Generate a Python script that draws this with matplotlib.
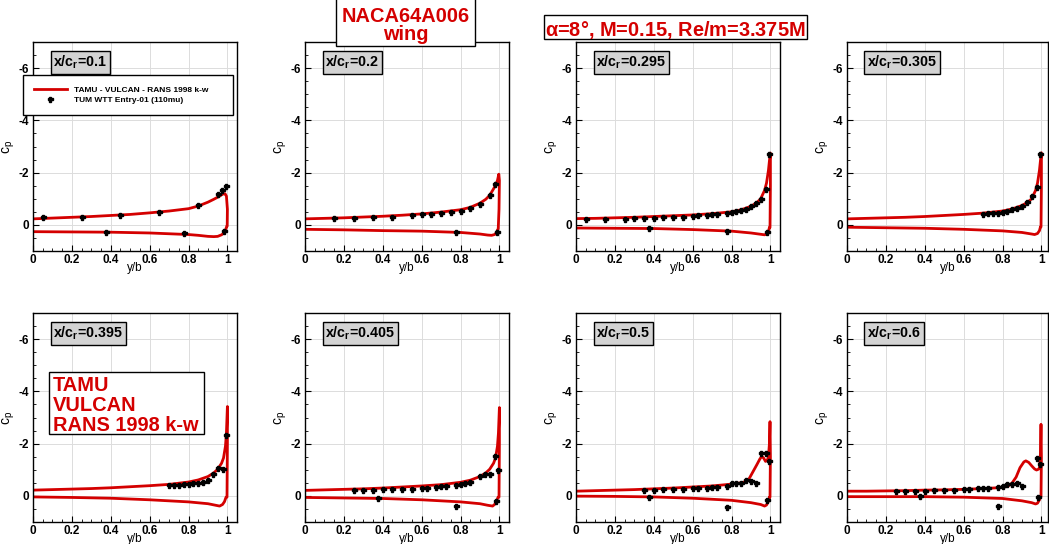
import matplotlib.pyplot as plt
from matplotlib.patches import Rectangle
from matplotlib.ticker import MultipleLocator

plt.rcParams['font.family'] = ['Liberation Sans', 'DejaVu Sans']
plt.rcParams['font.weight'] = 'bold'
plt.rcParams['mathtext.fontset'] = 'custom'
plt.rcParams['mathtext.rm'] = 'Liberation Sans:bold'
plt.rcParams['mathtext.bf'] = 'Liberation Sans:bold'
plt.rcParams['mathtext.it'] = 'Liberation Sans:bold'

RED = '#d40000'

# span stations (x/c_r)
stations = ['0.1', '0.2', '0.295', '0.305', '0.395', '0.405', '0.5', '0.6']

# ---- RANS surface cp, upper surface root->tip (incl. tip wrap) and lower surface root->tip
up_x = [
    [0, 0.1, 0.2, 0.3, 0.4, 0.5, 0.6, 0.7, 0.8, 0.85, 0.9, 0.93, 0.95, 0.97, 0.98, 0.988, 0.995, 1.0, 0.999],
    [0, 0.1, 0.2, 0.3, 0.4, 0.5, 0.6, 0.7, 0.8, 0.85, 0.9, 0.93, 0.95, 0.97, 0.98, 0.99, 0.997, 1.0, 0.998, 0.994],
    [0, 0.1, 0.2, 0.3, 0.4, 0.5, 0.6, 0.7, 0.8, 0.85, 0.9, 0.93, 0.95, 0.97, 0.98, 0.99, 0.995, 1.0, 1.0, 0.998],
    [0, 0.1, 0.2, 0.3, 0.4, 0.5, 0.6, 0.7, 0.8, 0.85, 0.9, 0.93, 0.95, 0.97, 0.98, 0.99, 0.995, 1.0, 1.0, 0.998],
    [0, 0.1, 0.2, 0.3, 0.4, 0.5, 0.6, 0.7, 0.8, 0.85, 0.9, 0.93, 0.95, 0.97, 0.98, 0.99, 0.995, 1.0, 1.0, 0.998],
    [0, 0.1, 0.2, 0.3, 0.4, 0.5, 0.6, 0.7, 0.8, 0.85, 0.9, 0.93, 0.95, 0.97, 0.98, 0.99, 0.995, 1.0, 1.0, 0.998],
    [0, 0.1, 0.2, 0.3, 0.4, 0.5, 0.6, 0.7, 0.8, 0.85, 0.87, 0.89, 0.91, 0.93, 0.945, 0.955, 0.965, 0.975,
     0.985, 0.99, 0.995, 0.998, 1.0, 0.998],
    [0, 0.1, 0.2, 0.3, 0.4, 0.5, 0.6, 0.7, 0.8, 0.83, 0.85, 0.87, 0.89, 0.91, 0.92, 0.935, 0.95, 0.965,
     0.975, 0.985, 0.99, 0.995, 0.998, 1.0, 0.998],
]
up_cp = [
    [-0.23, -0.26, -0.29, -0.32, -0.36, -0.40, -0.46, -0.53, -0.62, -0.72, -0.87, -0.98, -1.06, -1.15, -1.19,
     -1.19, -1.10, -0.60, 0.05],
    [-0.23, -0.25, -0.27, -0.30, -0.33, -0.37, -0.42, -0.49, -0.58, -0.67, -0.83, -0.98, -1.13, -1.38, -1.52,
     -1.70, -1.94, -1.70, -0.60, 0.15],
    [-0.24, -0.25, -0.27, -0.29, -0.32, -0.35, -0.38, -0.43, -0.50, -0.58, -0.71, -0.85, -1.00, -1.32, -1.60,
     -2.09, -2.45, -2.75, -1.50, 0.10],
    [-0.23, -0.25, -0.27, -0.29, -0.32, -0.36, -0.40, -0.45, -0.53, -0.61, -0.74, -0.87, -1.00, -1.32, -1.60,
     -2.09, -2.45, -2.76, -1.50, 0.08],
    [-0.22, -0.24, -0.26, -0.28, -0.31, -0.35, -0.39, -0.44, -0.53, -0.61, -0.74, -0.88, -1.02, -1.25, -1.45,
     -1.90, -2.40, -3.42, -2.00, 0.05],
    [-0.21, -0.23, -0.25, -0.27, -0.30, -0.34, -0.38, -0.43, -0.52, -0.60, -0.74, -0.88, -1.02, -1.25, -1.45,
     -1.90, -2.40, -3.38, -2.00, 0.05],
    [-0.18, -0.20, -0.22, -0.24, -0.27, -0.30, -0.34, -0.38, -0.45, -0.50, -0.54, -0.65, -0.92, -1.19, -1.40,
     -1.51, -1.45, -1.32, -1.38, -1.50, -2.00, -2.84, -1.50, 0.05],
    [-0.18, -0.18, -0.19, -0.20, -0.22, -0.23, -0.25, -0.28, -0.32, -0.38, -0.50, -0.72, -1.08, -1.30, -1.34,
     -1.28, -1.15, -1.03, -0.99, -1.02, -1.08, -1.60, -2.74, -1.50, 0.03],
]
lo_x = [
    [0, 0.2, 0.4, 0.6, 0.8, 0.85, 0.9, 0.93, 0.95, 0.97, 0.98, 0.99, 0.997],
    [0, 0.2, 0.4, 0.6, 0.8, 0.9, 0.94, 0.96, 0.975, 0.985, 0.99],
    [0, 0.2, 0.4, 0.6, 0.8, 0.9, 0.95, 0.97, 0.98, 0.99, 0.995],
    [0, 0.2, 0.4, 0.6, 0.8, 0.9, 0.95, 0.965, 0.98, 0.99, 0.995],
    [0, 0.2, 0.4, 0.6, 0.8, 0.9, 0.94, 0.96, 0.975, 0.985, 0.993],
    [0, 0.2, 0.4, 0.6, 0.8, 0.9, 0.94, 0.965, 0.975, 0.985, 0.993],
    [0, 0.2, 0.4, 0.6, 0.8, 0.9, 0.95, 0.97, 0.98, 0.99, 0.995],
    [0, 0.2, 0.4, 0.6, 0.8, 0.9, 0.95, 0.97, 0.98, 0.99, 0.995],
]
lo_cp = [
    [0.26, 0.27, 0.28, 0.31, 0.37, 0.40, 0.44, 0.45, 0.44, 0.38, 0.32, 0.20, 0.05],
    [0.17, 0.19, 0.22, 0.24, 0.29, 0.35, 0.39, 0.40, 0.37, 0.30, 0.20],
    [0.12, 0.13, 0.14, 0.18, 0.24, 0.31, 0.36, 0.38, 0.35, 0.25, 0.10],
    [0.09, 0.11, 0.13, 0.17, 0.23, 0.29, 0.35, 0.37, 0.33, 0.22, 0.08],
    [0.04, 0.06, 0.09, 0.15, 0.23, 0.30, 0.36, 0.39, 0.33, 0.22, 0.05],
    [0.06, 0.08, 0.10, 0.15, 0.23, 0.30, 0.36, 0.39, 0.33, 0.22, 0.05],
    [0.01, 0.02, 0.04, 0.09, 0.17, 0.26, 0.33, 0.39, 0.35, 0.20, 0.05],
    [0.03, 0.03, 0.03, 0.05, 0.10, 0.19, 0.26, 0.31, 0.28, 0.15, 0.03],
]

# ---- wind tunnel taps (y/b, cp)
exp_x = [
    [0.05, 0.25, 0.375, 0.45, 0.65, 0.775, 0.85, 0.95, 0.973, 0.985, 0.995],
    [0.15, 0.25, 0.35, 0.45, 0.55, 0.6, 0.65, 0.7, 0.75, 0.8, 0.85, 0.9, 0.95, 0.976, 0.776, 0.988],
    [0.05, 0.15, 0.25, 0.3, 0.35, 0.4, 0.45, 0.5, 0.55, 0.6, 0.625, 0.675, 0.7, 0.725, 0.775, 0.8, 0.825,
     0.85, 0.875, 0.9, 0.925, 0.95, 0.975, 0.995, 0.375, 0.775, 0.985],
    [0.7, 0.725, 0.75, 0.775, 0.8, 0.825, 0.85, 0.875, 0.9, 0.925, 0.95, 0.975, 0.995],
    [0.7, 0.725, 0.75, 0.775, 0.8, 0.825, 0.85, 0.875, 0.9, 0.925, 0.95, 0.975, 0.995],
    [0.25, 0.3, 0.35, 0.4, 0.45, 0.5, 0.55, 0.6, 0.625, 0.675, 0.7, 0.725, 0.775, 0.8, 0.825, 0.85, 0.9,
     0.925, 0.95, 0.975, 0.995, 0.375, 0.775, 0.985],
    [0.35, 0.4, 0.45, 0.5, 0.55, 0.6, 0.625, 0.675, 0.7, 0.725, 0.775, 0.8, 0.825, 0.85, 0.875, 0.9, 0.925,
     0.95, 0.975, 0.995, 0.375, 0.775, 0.985],
    [0.25, 0.3, 0.35, 0.4, 0.45, 0.5, 0.55, 0.6, 0.625, 0.675, 0.7, 0.725, 0.775, 0.8, 0.825, 0.85, 0.875,
     0.9, 0.975, 0.995, 0.375, 0.775, 0.985],
]
exp_cp = [
    [-0.32, -0.29, 0.26, -0.37, -0.48, 0.33, -0.76, -1.18, -1.33, 0.22, -1.47],
    [-0.26, -0.28, -0.30, -0.32, -0.36, -0.40, -0.42, -0.45, -0.49, -0.55, -0.64, -0.81, -1.13, -1.56, 0.28, 0.28],
    [-0.22, -0.23, -0.24, -0.26, -0.26, -0.28, -0.29, -0.31, -0.32, -0.33, -0.36, -0.38, -0.40, -0.42,
     -0.46, -0.49, -0.53, -0.58, -0.62, -0.72, -0.85, -1.00, -1.38, -2.73, 0.13, 0.22, 0.28],
    [-0.42, -0.44, -0.45, -0.47, -0.51, -0.55, -0.59, -0.64, -0.72, -0.87, -1.09, -1.45, -2.73],
    [-0.40, -0.41, -0.42, -0.44, -0.46, -0.48, -0.51, -0.55, -0.62, -0.84, -1.08, -1.02, -2.34],
    [-0.21, -0.22, -0.23, -0.25, -0.26, -0.27, -0.28, -0.31, -0.32, -0.34, -0.36, -0.37, -0.41, -0.45,
     -0.49, -0.54, -0.75, -0.85, -0.84, -1.51, -0.99, 0.08, 0.39, 0.21],
    [-0.21, -0.23, -0.25, -0.26, -0.28, -0.31, -0.32, -0.32, -0.34, -0.35, -0.39, -0.48, -0.48, -0.50,
     -0.59, -0.57, -0.48, -1.65, -1.65, -1.32, 0.04, 0.43, 0.15],
    [-0.18, -0.18, -0.18, -0.20, -0.22, -0.22, -0.24, -0.27, -0.27, -0.29, -0.31, -0.32, -0.34, -0.36,
     -0.47, -0.47, -0.51, -0.38, -1.44, -1.21, 0.01, 0.38, 0.05],
]

W, H = 1049, 544
fig = plt.figure(figsize=(W / 100, H / 100), dpi=100)


def fx(x):
    return x / W


def fy(y):
    return 1 - y / H


lefts = [33, 305, 576, 847]
tops = [42, 313]
ax_w, ax_h = 204, 209
unit = 194.4  # pixels per 1.0 of y/b

axes = []
for i in range(8):
    r, c = divmod(i, 4)
    w = ax_w if c < 3 else 201
    ax = fig.add_axes([fx(lefts[c]), fy(tops[r] + ax_h), w / W, ax_h / H])
    ax.set_xlim(0, w / unit)
    ax.set_ylim(1, -7)
    ax.xaxis.set_minor_locator(MultipleLocator(0.05))
    ax.yaxis.set_minor_locator(MultipleLocator(0.5))
    ax.set_xticks([0, 0.2, 0.4, 0.6, 0.8, 1.0])
    ax.set_xticklabels(['0', '0.2', '0.4', '0.6', '0.8', '1'])
    ax.set_yticks([0, -2, -4, -6])
    ax.set_yticklabels(['0', '-2', '-4', '-6'])
    ax.tick_params(which='both', direction='in', labelsize=8.5)
    ax.tick_params(axis='x', pad=2)
    ax.tick_params(axis='y', pad=3)
    ax.tick_params(which='major', length=4)
    ax.tick_params(which='minor', length=2)
    ax.grid(True, which='major', color='#dcdcdc', lw=0.7)
    ax.set_axisbelow(True)
    for s in ax.spines.values():
        s.set_linewidth(1.0)
    ax.set_xlabel('y/b', fontsize=8.5, labelpad=-2.5)
    ax.set_ylabel('c$_\\mathregular{p}$', fontsize=10, labelpad=1)

    lx = up_x[i] + lo_x[i][::-1]
    lcp = up_cp[i] + lo_cp[i][::-1]
    ax.plot(lx, lcp, color=RED, lw=2, solid_joinstyle='round',
            label='TAMU - VULCAN - RANS 1998 k-w')
    ax.plot(exp_x[i], exp_cp[i], ls='none', marker='P', ms=3.6, color='black',
            mec='black', label='TUM WTT Entry-01 (110mu)')

    ax.text(0.1, 0.945, 'x/c$_\\mathregular{r}$=' + stations[i], transform=ax.transAxes,
            fontsize=10.3, fontweight='bold', va='top', ha='left',
            bbox=dict(boxstyle='square,pad=0.2', fc='#d3d3d3', ec='black', lw=1))
    axes.append(ax)

# legend in the first panel
leg = axes[0].legend(loc='lower left', bbox_to_anchor=(-0.05, 0.65, 1.03, 0.18), mode='expand',
                     fontsize=6, frameon=True, fancybox=False, edgecolor='black',
                     handlelength=4, borderaxespad=0, borderpad=1.3, labelspacing=0.3)
leg.get_frame().set_linewidth(1.0)
leg.get_frame().set_alpha(1)

# solver box in the fifth panel
fig.patches.append(Rectangle((fx(49), fy(434)), 155 / W, 62 / H, transform=fig.transFigure,
                             fc='white', ec='black', lw=1, zorder=5))
for k, line in enumerate(['TAMU', 'VULCAN', 'RANS 1998 k-w']):
    fig.text(fx(53), fy(391 + 20 * k), line, color=RED, fontsize=14.4, fontweight='bold',
             va='baseline', ha='left', zorder=6)

# header boxes
fig.patches.append(Rectangle((fx(336), fy(46)), 139 / W, 60 / H, transform=fig.transFigure,
                             fc='white', ec='black', lw=1, zorder=5))
fig.text(fx(405.5), fy(40.5), 'NACA64A006\nwing', color=RED, fontsize=14.4, fontweight='bold',
         ha='center', va='baseline', multialignment='center', linespacing=0.95, zorder=6)

fig.patches.append(Rectangle((fx(544), fy(39)), 263 / W, 24 / H, transform=fig.transFigure,
                             fc='white', ec='black', lw=1, zorder=5))
fig.text(fx(675.5), fy(27.5), r'$\alpha$=8$\degree$, M=0.15, Re/m=3.375M', color=RED,
         fontsize=14.4, fontweight='bold', ha='center', va='center_baseline', zorder=6)

fig.savefig('out.png', dpi=100)
